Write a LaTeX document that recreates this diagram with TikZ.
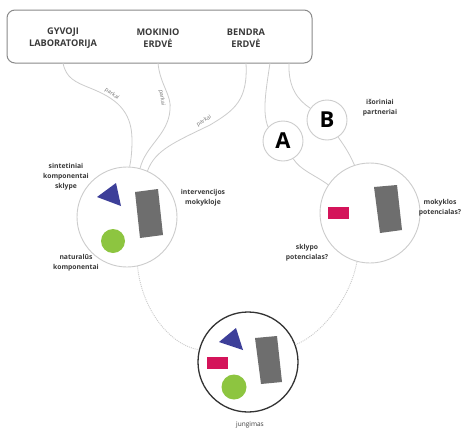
\documentclass[tikz,border=0pt]{standalone}
\usepackage{fontspec}
\setmainfont{Open Sans}
\newfontfamily\osb{Open Sans Bold}
\definecolor{lineg}{HTML}{CCCCCC}
\definecolor{boxg}{HTML}{8A8A8A}
\definecolor{txt}{HTML}{3A3A3A}
\definecolor{blu}{HTML}{3D3F99}
\definecolor{gry}{HTML}{6E6E6E}
\definecolor{grn}{HTML}{8DC540}
\definecolor{mag}{HTML}{D4145A}
\tikzset{
  conn/.style={draw=lineg, line width=0.8pt},
  dotconn/.style={draw=lineg, line width=0.9pt, dash pattern=on 1pt off 1pt},
  bigcirc/.style={circle, draw=lineg, line width=0.9pt, minimum size=100pt, inner sep=0pt},
  smallcirc/.style={circle, draw=lineg, line width=0.9pt, fill=white, minimum size=40pt, inner sep=0pt, font=\osb\fontsize{22}{24}\selectfont, text=black},
  head/.style={align=center, font=\osb\fontsize{9.2}{12}\selectfont, text=txt},
  lbl/.style={align=center, font=\osb\fontsize{6.8}{10}\selectfont, text=txt},
  park/.style={font=\fontsize{5.5}{6}\selectfont, text=black!55, inner sep=0.5pt}
}
\begin{document}
\begin{tikzpicture}[x=1pt,y=-1pt]
\useasboundingbox (0,0) rectangle (471,434);
\fill[white] (0,0) rectangle (471,434);
% top box
\node[draw=boxg, line width=1pt, rounded corners=8pt, minimum width=305pt, minimum height=53pt, inner sep=0pt] (box) at (159.5,36.5) {};
\node[head] (gl) at (63,38) {GYVOJI\\LABORATORIJA};
\node[head] (me) at (158,38) {MOKINIO\\ERDVĖ};
\node[head] (be) at (246,38) {BENDRA\\ERDVĖ};
\coordinate (s1) at (63,63);
\coordinate (s2) at (158,63);
\coordinate (s3) at (246,63);
\coordinate (s4) at (270,63);
\coordinate (s5) at (289,63);
% circles
\node[bigcirc] (L) at (127,217) {};
\node[bigcirc] (R) at (370,213) {};
\node[circle, draw=black!80, line width=1.3pt, minimum size=100pt, inner sep=0pt] (J) at (248,362) {};
% connectors
\draw[conn] (s1) .. controls (66,78) and (75,82) .. (90,88) .. controls (115,98) and (132,110) .. (132,140) .. controls (132,152) and (131,160) .. (L.87);
\draw[conn] (s2) .. controls (160,85) and (172,95) .. (170,110) .. controls (168,135) and (146,145) .. (L.75);
\draw[conn] (s3) .. controls (248,100) and (235,110) .. (210,125) .. controls (175,142) and (155,150) .. (L.66);
\node[smallcirc] (A) at (283,141) {A};
\node[smallcirc] (B) at (327,120) {B};
\draw[conn] (s4) .. controls (266,90) and (262,112) .. (A.137);
\draw[conn] (s5) .. controls (288,88) and (298,100) .. (B.145);
\draw[conn] (A.-60) .. controls (300,170) and (315,175) .. (R.146);
\draw[conn] (B.-57) .. controls (346,148) and (350,155) .. (R.108);
\draw[dotconn] (L.-78) .. controls (142,310) and (170,345) .. (J.166);
\draw[dotconn] (R.-105) .. controls (350,300) and (320,335) .. (J.20);
% parkai labels
\node[park, rotate=-35] (p1) at (112,94) {parkai};
\node[park, rotate=-82] (p2) at (162,98) {parkai};
\node[park, rotate=30] (p3) at (204,121) {parkai};
% shapes left circle
\fill[blu] (97,197) -- (116,183) -- (121,206) -- cycle;
\fill[gry] (135,192) -- (158,189) -- (163,235) -- (140,238) -- cycle;
\fill[grn] (113,241) circle (12);
% shapes right circle
\fill[mag] (328,207) rectangle (349,219);
\fill[gry] (374,187) -- (397,185) -- (402,230) -- (380,233) -- cycle;
% shapes bottom circle
\fill[blu] (219,342) -- (236,328) -- (243,350) -- cycle;
\fill[mag] (207,357) rectangle (228,369);
\fill[gry] (255,338) -- (277,336) -- (282,382) -- (261,384) -- cycle;
\fill[grn] (234,387) circle (12.5);
% labels
\node[lbl] (t1) at (66,177) {sintetiniai\\komponentai\\sklype};
\node[lbl] (t2) at (203,198) {intervencijos\\mokykloje};
\node[lbl] (t3) at (76,263) {naturalūs\\komponentai};
\node[lbl] (t4) at (380,108) {išoriniai\\partneriai};
\node[lbl] (t5) at (440,208) {mokyklos\\potencialas?};
\node[lbl] (t6) at (307,253) {sklypo\\potencialas?};
\node[font=\fontsize{6.5}{8}\selectfont, text=txt] (t7) at (250,425) {jungimas};
\end{tikzpicture}
\end{document}
